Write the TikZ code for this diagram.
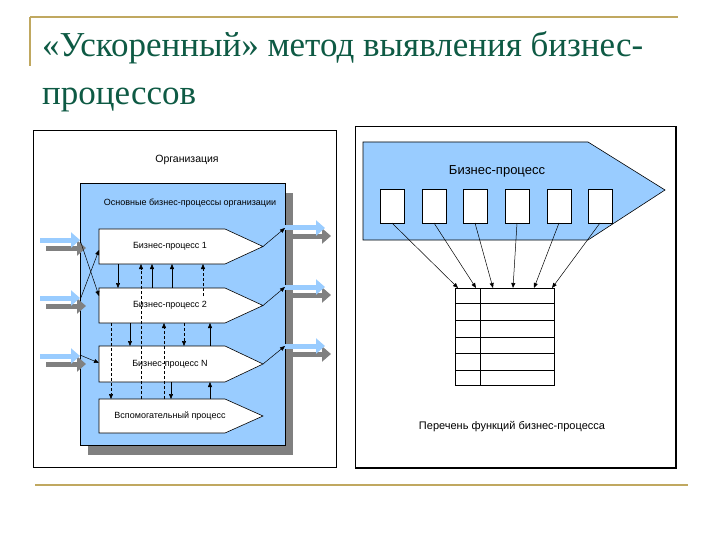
\documentclass[tikz,border=0pt]{standalone}
\usepackage{fontspec}
\setmainfont{Liberation Serif}
\newfontfamily\lab{Liberation Sans}
\usetikzlibrary{arrows.meta}
\definecolor{gold}{HTML}{C0A860}
\definecolor{ttl}{HTML}{0E5A44}
\definecolor{lblue}{HTML}{99CCFF}
\definecolor{shad}{HTML}{808080}
\begin{document}
\begin{tikzpicture}[x=1pt,y=-1pt,
  lbl/.style={font=\lab\fontsize{9}{10}\selectfont, inner sep=0},
  proc/.style={draw=black, fill=white, line width=0.6pt},
  con/.style={-{Triangle[length=5pt,width=4pt]}, line width=0.5pt},
  dcon/.style={con, dash pattern=on 3pt off 2pt},
  fat/.style={line width=5pt, -{Triangle[length=9pt,width=15pt]}}]
\useasboundingbox (0,0) rectangle (720,540);
% slide decoration
\draw[gold, line width=1.2pt] (30,17) -- (678,17);
\draw[gold, line width=1.2pt] (30,17) -- (30,66);
\draw[gold, line width=2pt] (35,485) -- (688,485);
\node[anchor=base west, text=ttl, font=\fontsize{35}{40}\selectfont, inner sep=0] (t1) at (42,57) {«Ускоренный» метод выявления бизнес-};
\node[anchor=base west, text=ttl, font=\fontsize{35}{40}\selectfont, inner sep=0] (t2) at (42,105) {процессов};
% ===== left panel =====
\draw[line width=0.6pt] (33,130) rectangle (336,467);
\node[lbl, font=\lab\fontsize{10.5}{11}\selectfont] (org) at (187,160) {Организация};
\fill[shad] (88,193) rectangle (293,455);
\draw[fill=lblue, line width=0.5pt] (80,183) rectangle (285,445);
\node[lbl] (main) at (190,203) {Основные бизнес-процессы организации};
\foreach \t/\b/\n/\s in {229/264/bp1/Бизнес-процесс 1, 288/323/bp2/Бизнес-процесс 2, 346/382/bpn/Бизнес-процесс N, 399/433/aux/Вспомогательный процесс}{
  \draw[proc] (99,\t) -- (225,\t) -- (263,{(\t+\b)/2}) -- (225,\b) -- (99,\b) -- cycle;
  \node[lbl] (\n) at (170,{(\t+\b)/2}) {\s};
}
% input / output fat arrows
\foreach \y/\n in {240/i1, 298/i2, 356/i3}{
  \draw[fat, shad] (46,\y+8) -- (86,\y+8);
  \draw[fat, lblue] (40,\y) -- (80,\y);
  \coordinate (\n) at (80,\y);
}
\foreach \y/\n in {228/o1, 287/o2, 346/o3}{
  \draw[fat, shad] (291,\y+8) -- (331,\y+8);
  \draw[fat, lblue] (285,\y) -- (325,\y);
  \coordinate (\n) at (285,\y);
}
\draw[con] (i1) -- (99,296);
\draw[con] (80,300) -- (99,250);
\draw[con] (80,355) -- (99,363);
\draw[con] (263,246.5) -- (o1);
\draw[con] (263,305.5) -- (o2);
\draw[con] (263,364) -- (o3);
% vertical links
\draw[dcon] (141,399) -- (141,264);
\draw[con] (152,288) -- (152,264);
\draw[con] (172,288) -- (172,264);
\draw[dcon] (203,296) -- (203,264);
\draw[con] (118,264) -- (118,288);
\draw[dcon] (111,323) -- (111,399);
\draw[con] (130,323) -- (130,346);
\draw[dcon] (164,399) -- (164,323);
\draw[dcon] (184,323) -- (184,346);
\draw[con] (210,346) -- (210,323);
\draw[con] (171,382) -- (171,399);
\draw[con] (210,399) -- (210,382);
% ===== right panel =====
\draw[line width=0.6pt] (355,126) -- (676,126);
\draw[line width=0.6pt] (355,126) -- (355,468);
\draw[line width=1.4pt] (355,468) -- (676,468) -- (676,126);
\draw[fill=lblue, line width=0.6pt] (363,142) -- (588,142) -- (665,190) -- (588,240) -- (363,240) -- cycle;
\node[lbl, font=\lab\fontsize{13}{14}\selectfont] (bp) at (497,171) {Бизнес-процесс};
\foreach \x/\n/\e in {380/b1/458, 422/b2/476, 463/b3/493, 505/b4/513, 547/b5/534, 588/b6/552}{
  \draw[fill=white, line width=0.6pt] (\x,189) rectangle (\x+24,223);
  \coordinate (\n) at (\x+12,223);
  \coordinate (\n e) at (\e,288);
  \draw[con] (\n) -- (\n e);
}
\draw[line width=0.7pt] (455,288) rectangle (554,385);
\draw[line width=0.7pt] (480,288) -- (480,385);
\foreach \y in {303,320,337,353,370}{\draw[line width=0.7pt] (455,\y) -- (554,\y);}
\node[lbl, font=\lab\fontsize{11}{12}\selectfont] (list) at (512,427) {Перечень функций бизнес-процесса};
\end{tikzpicture}
\end{document}
